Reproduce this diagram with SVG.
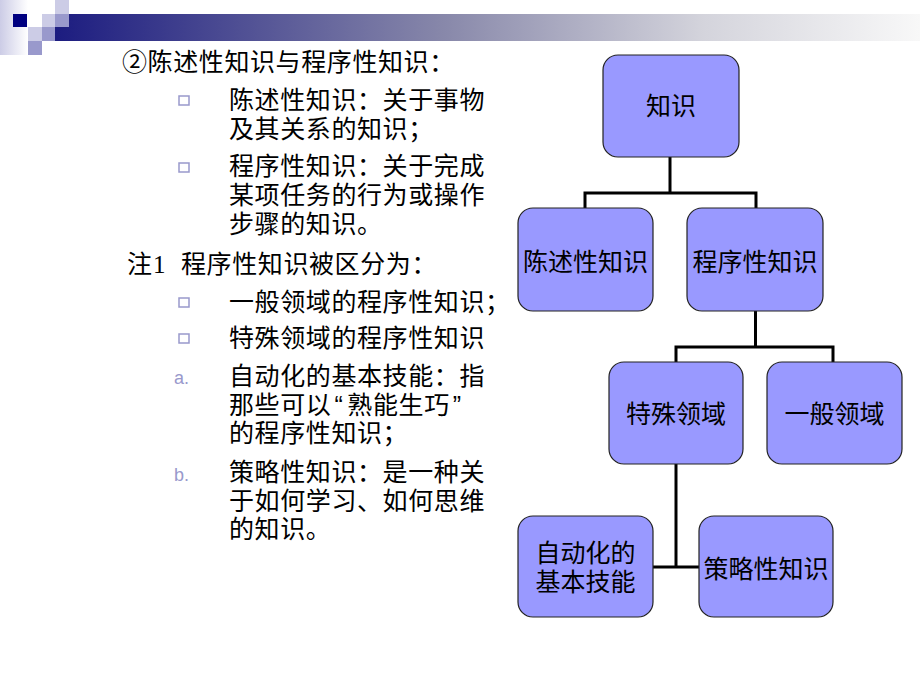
<svg xmlns="http://www.w3.org/2000/svg" width="920" height="690" viewBox="0 0 920 690">
<defs>
<linearGradient id="bar" x1="0" y1="0" x2="1" y2="0">
<stop offset="0" stop-color="#1c1c80"/>
<stop offset="0.45" stop-color="#8888aa"/>
<stop offset="0.75" stop-color="#d4d4dc"/>
<stop offset="1" stop-color="#f8f8f8"/>
</linearGradient>
<linearGradient id="side" x1="0" y1="0" x2="1" y2="0">
<stop offset="0" stop-color="#ccccE6"/>
<stop offset="1" stop-color="#ffffff"/>
</linearGradient>
<style>
.t{font-family:"Liberation Sans","Noto Sans CJK SC",sans-serif;font-size:25px;letter-spacing:0.6px;fill:#000}
.n{font-family:"Liberation Sans","Noto Sans CJK SC",sans-serif;font-size:25px;fill:#000;text-anchor:middle}
.box{fill:#9999ff;stroke:#222;stroke-width:1.2}
.c{fill:none;stroke:#000;stroke-width:3}
.b{fill:none;stroke:#9999cc;stroke-width:1.5}
.ab{font-family:"Liberation Sans",Arial,sans-serif;font-size:18px;fill:#9999cc}
</style>
</defs>
<rect width="920" height="690" fill="#fff"/>
<g id="decor">
<rect x="0" y="0" width="28" height="55" fill="url(#side)"/>
<rect x="55" y="14" width="865" height="27" fill="url(#bar)"/>
<rect x="13" y="14" width="14" height="13" fill="#000080"/>
<rect x="42" y="14" width="13" height="13" fill="#ccccE6"/>
<rect x="55" y="0" width="14" height="14" fill="#ccccE6"/>
<rect x="55" y="14" width="14" height="13" fill="#9999cc"/>
<rect x="28" y="27" width="14" height="14" fill="#ccccE6"/>
<rect x="42" y="27" width="13" height="14" fill="#9999cc"/>
<rect x="28" y="41" width="14" height="14" fill="#9999cc"/>
</g>
<g id="text">
<text class="t" x="122" y="71">②陈述性知识与程序性知识：</text>
<rect class="b" x="179" y="96" width="10" height="9"/>
<text class="t"><tspan x="229" y="109">陈述性知识：关于事物</tspan><tspan x="229" y="137.5">及其关系的知识；</tspan></text>
<rect class="b" x="179" y="163" width="10" height="9"/>
<text class="t"><tspan x="229" y="175">程序性知识：关于完成</tspan><tspan x="229" y="204">某项任务的行为或操作</tspan><tspan x="229" y="233">步骤的知识。</tspan></text>
<text class="t" x="127" y="273">注<tspan font-family="Liberation Serif" x="153">1</tspan><tspan x="181">程序性知识被区分为：</tspan></text>
<rect class="b" x="179" y="298" width="10" height="9"/>
<text class="t" x="229" y="311">一般领域的程序性知识；</text>
<rect class="b" x="179" y="334" width="10" height="9"/>
<text class="t" x="229" y="347">特殊领域的程序性知识</text>
<text class="ab" x="174" y="384">a.</text>
<text class="t"><tspan x="229" y="385">自动化的基本技能：指</tspan><tspan x="229" y="413.5">那些可以<tspan dx="3">“</tspan><tspan dx="4">熟能生巧</tspan><tspan dx="3">”</tspan></tspan><tspan x="229" y="442">的程序性知识；</tspan></text>
<text class="ab" x="174" y="481">b.</text>
<text class="t"><tspan x="229" y="481">策略性知识：是一种关</tspan><tspan x="229" y="509.5">于如何学习、如何思维</tspan><tspan x="229" y="538">的知识。</tspan></text>
</g>
<g id="connectors">
<polyline class="c" points="670,157 670,193"/>
<polyline class="c" points="585,208 585,193 756,193 756,208"/>
<polyline class="c" points="755.5,311 755.5,347"/>
<polyline class="c" points="676,362 676,347 833,347 833,362"/>
<polyline class="c" points="676,464 676,567"/>
<polyline class="c" points="653,567 699,567"/>
</g>
<g id="n-zhishi"><rect class="box" x="603" y="55" width="136" height="102" rx="15"/><text class="n" x="671" y="115">知识</text></g>
<g id="n-chenshu"><rect class="box" x="518" y="208" width="135" height="103" rx="15"/><text class="n" x="585.5" y="271">陈述性知识</text></g>
<g id="n-chengxu"><rect class="box" x="687" y="208" width="136" height="103" rx="15"/><text class="n" x="755" y="271">程序性知识</text></g>
<g id="n-teshu"><rect class="box" x="609" y="362" width="134" height="102" rx="15"/><text class="n" x="676" y="423">特殊领域</text></g>
<g id="n-yiban"><rect class="box" x="767" y="362" width="135" height="102" rx="15"/><text class="n" x="834.5" y="423">一般领域</text></g>
<g id="n-zidong"><rect class="box" x="518" y="516" width="135" height="101" rx="15"/><text class="n"><tspan x="585.5" y="562">自动化的</tspan><tspan x="585.5" y="591">基本技能</tspan></text></g>
<g id="n-celue"><rect class="box" x="699" y="516" width="134" height="101" rx="15"/><text class="n" x="766" y="578">策略性知识</text></g>
</svg>
